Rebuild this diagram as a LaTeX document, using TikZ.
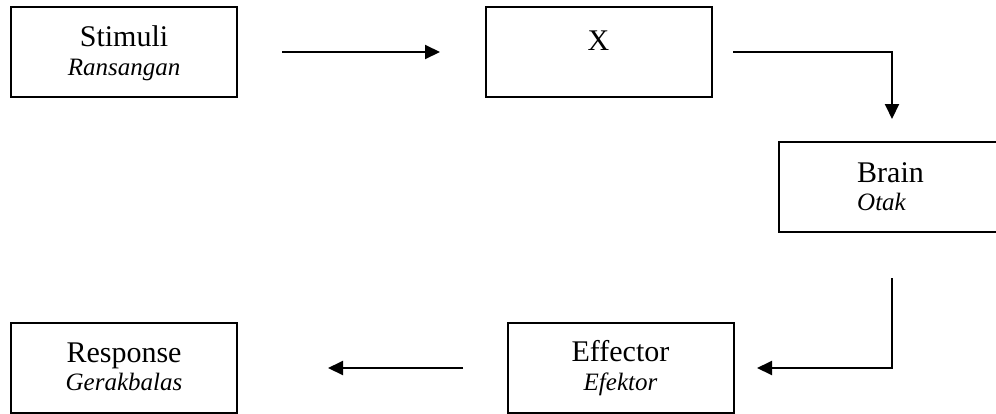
\documentclass[tikz,border=0pt]{standalone}
\usepackage{fontspec}
\setmainfont{Liberation Serif}
\usetikzlibrary{arrows.meta}
\begin{document}
\begin{tikzpicture}[x=1pt,y=-1pt,
  box/.style={draw,line width=2pt,rectangle,minimum width=226pt,minimum height=90pt,inner sep=0pt},
  main/.style={anchor=base,inner sep=0pt,font=\fontsize{30}{36}\selectfont},
  sub/.style={anchor=base,inner sep=0pt,font=\fontsize{25}{30}\selectfont\itshape},
  conn/.style={line width=2pt,-{Triangle[length=15pt,width=14pt]}}]
\useasboundingbox (0,0) rectangle (996,413);
\clip (0,0) rectangle (996,413);
% boxes
\node[box] (stim) at (124,52) {};
\node[box] (x) at (598.5,52) {};
\node[box] (brain) at (892,187) {};
\node[box] (eff) at (620.5,368) {};
\node[box] (resp) at (124,368) {};
% texts
\node[main] (stimT) at (124,46) {Stimuli};
\node[sub] (stimS) at (124,75) {Ransangan};
\node[main] (xT) at (598.5,50) {X};
\node[main,anchor=base west] (brainT) at (857,182) {Brain};
\node[sub,anchor=base west] (brainS) at (857,210) {Otak};
\node[main] (effT) at (620.5,361) {Effector};
\node[sub] (effS) at (620.5,390) {Efektor};
\node[main] (respT) at (124,362) {Response};
\node[sub] (respS) at (124,390) {Gerakbalas};
% connector ends
\coordinate (a1s) at (282,52);
\coordinate (a1e) at (440,52);
\coordinate (a2s) at (733,52);
\coordinate (a2c) at (892,52);
\coordinate (a2e) at (892,119);
\coordinate (a3s) at (892,278);
\coordinate (a3c) at (892,368);
\coordinate (a3e) at (757,368);
\coordinate (a4s) at (463,368);
\coordinate (a4e) at (328,368);
% connectors
\draw[conn] (a1s) -- (a1e);
\draw[conn] (a2s) -- (a2c) -- (a2e);
\draw[conn] (a3s) -- (a3c) -- (a3e);
\draw[conn] (a4s) -- (a4e);
\end{tikzpicture}
\end{document}
